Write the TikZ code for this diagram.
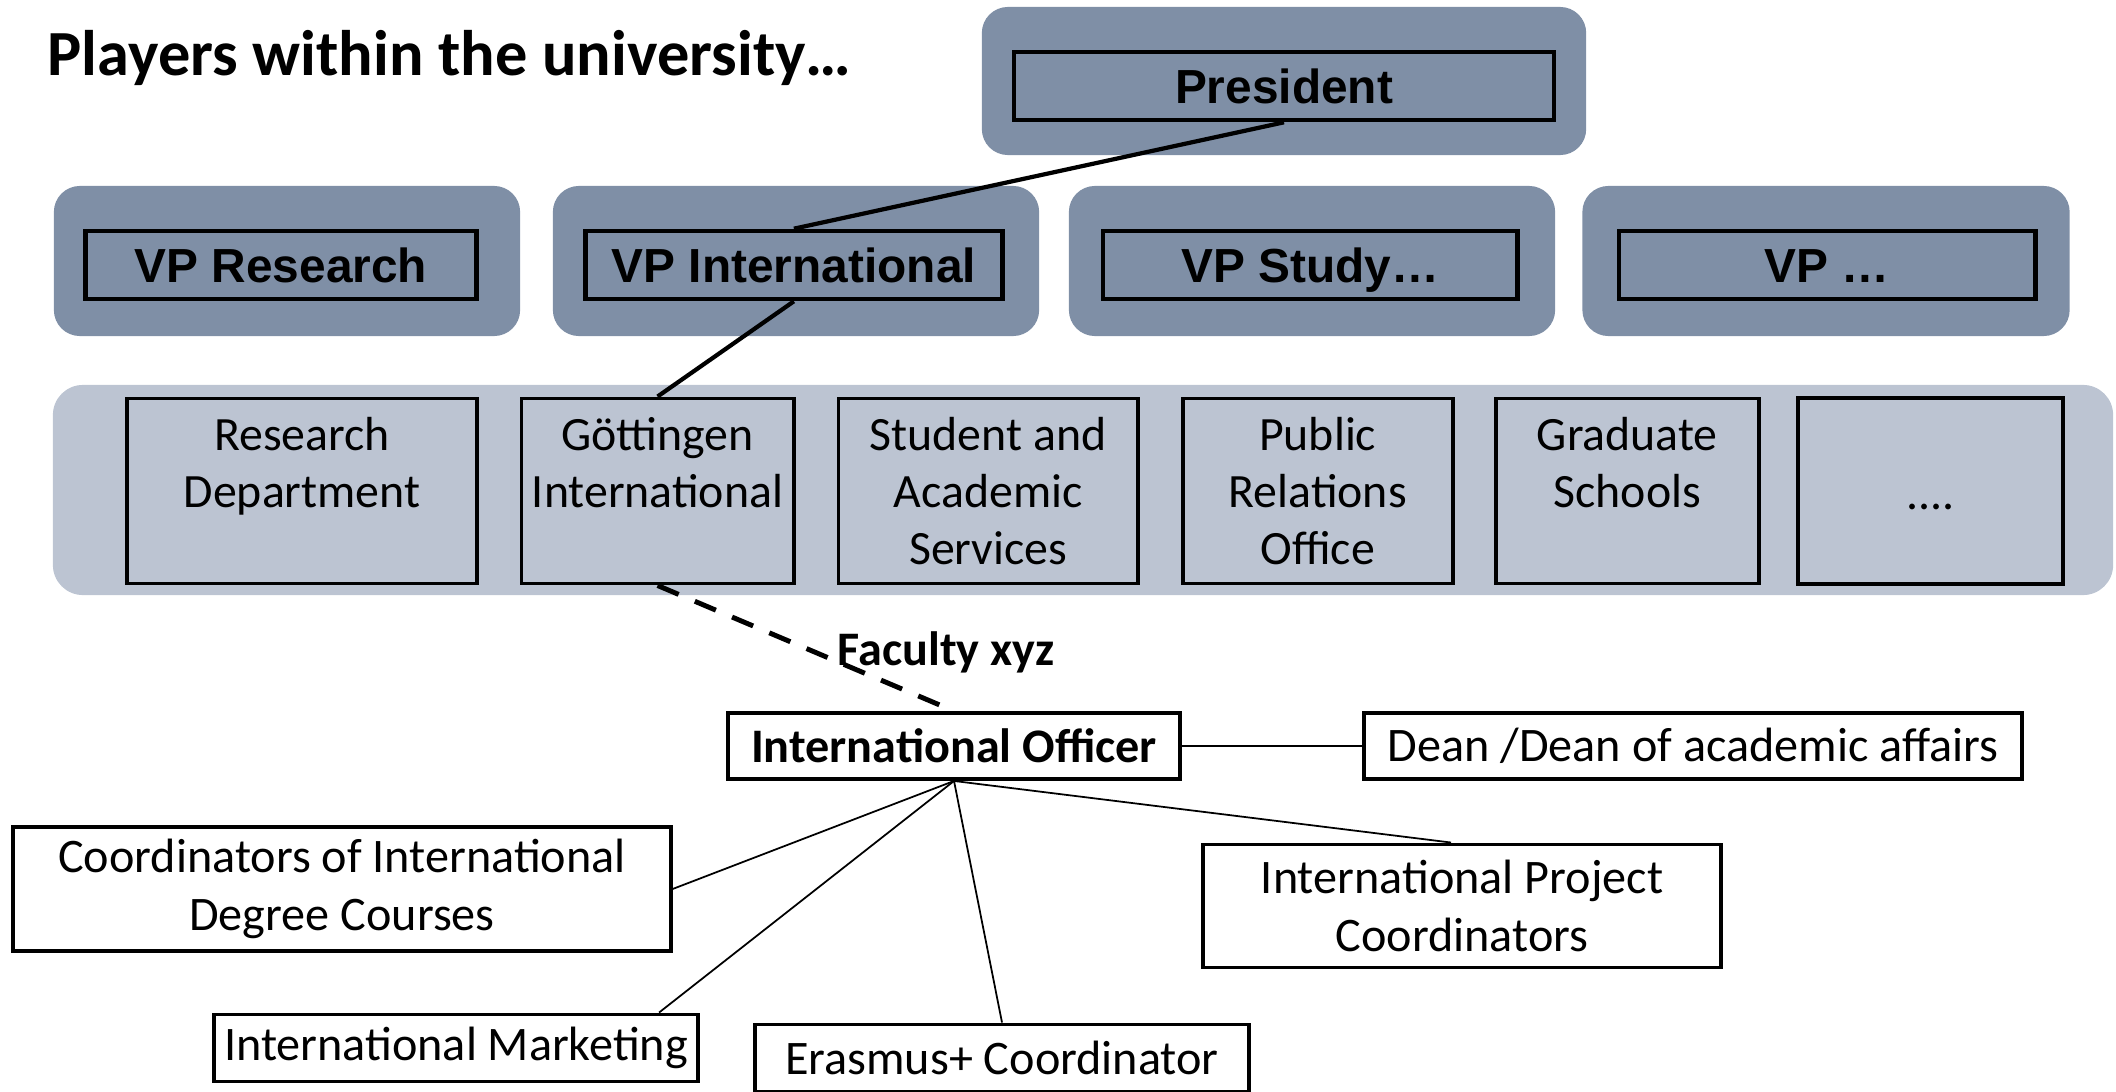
\documentclass[tikz,border=0pt]{standalone}
\usepackage{fontspec}
\setmainfont{Carlito}
\newfontfamily\arialfont{Liberation Sans}
\usetikzlibrary{positioning}
\definecolor{panelblue}{HTML}{7F8FA6}
\definecolor{bandblue}{HTML}{BCC4D2}
\tikzset{
  panel/.style={fill=panelblue, rounded corners=0.26cm, inner sep=0pt},
  band/.style={fill=bandblue, rounded corners=0.3cm, inner sep=0pt},
  vpbox/.style={draw, line width=1.3pt, fill=panelblue, minimum height=0.68cm,
    inner sep=0pt, text height=9.7pt, text depth=0pt,
    font=\arialfont\bfseries\fontsize{13.6}{16}\selectfont},
  deptbox/.style={draw, line width=1.1pt, fill=bandblue, minimum height=1.85cm,
    inner sep=0pt, align=center, font=\fontsize{13.6}{16.3}\selectfont},
  rolebox/.style={draw, line width=1.1pt, fill=white, inner sep=0pt,
    align=center, font=\fontsize{13.7}{16.5}\selectfont},
  link/.style={line width=1.2pt},
  twig/.style={line width=0.5pt}
}

\begin{document}
\begin{tikzpicture}[x=0.01cm, y=-0.01cm]

  \useasboundingbox (0,0) rectangle (2116,1091);

  % Title
  \node[anchor=west, inner sep=0pt, font=\bfseries\fontsize{18.3}{22}\selectfont]
    (title) at (47,58) {Players within the university…};

  % Panels
  \node[panel, minimum width=6.04cm, minimum height=1.48cm] (p_pres) at (1284,81) {};
  \node[panel, minimum width=4.66cm, minimum height=1.50cm] (p_vpr) at (287,261) {};
  \node[panel, minimum width=4.86cm, minimum height=1.50cm] (p_vpi) at (796,261) {};
  \node[panel, minimum width=4.86cm, minimum height=1.50cm] (p_vps) at (1312,261) {};
  \node[panel, minimum width=4.87cm, minimum height=1.50cm] (p_vpx) at (1826,261) {};
  \node[band, minimum width=20.59cm, minimum height=2.10cm] (p_band) at (1083,490) {};

  % Define nodes
  \node[vpbox, minimum width=5.40cm] (pres) at (1284,86) {President};
  \node[vpbox, minimum width=3.91cm] (vpr) at (281,265) {VP Research};
  \node[vpbox, minimum width=4.17cm, right=1.04cm of vpr] (vpi) {VP International};
  \node[vpbox, minimum width=4.14cm, right=0.96cm of vpi] (vps) {VP Study…};
  \node[vpbox, minimum width=4.16cm, right=0.97cm of vps] (vpx) {VP …};

  \node[deptbox, minimum width=3.49cm] (rd) at (302,491) {Research\\Department\\~};
  \node[deptbox, minimum width=2.72cm, right=0.41cm of rd]  (gi)  {Göttingen\\International\\~};
  \node[deptbox, minimum width=2.99cm, right=0.41cm of gi]  (sas) {Student and\\Academic\\Services};
  \node[deptbox, minimum width=2.70cm, right=0.41cm of sas] (pro) {Public\\Relations\\Office};
  \node[deptbox, minimum width=2.63cm, right=0.39cm of pro] (gs)  {Graduate\\Schools\\~};
  \node[deptbox, minimum width=2.65cm, right=0.35cm of gs]  (etc) {\strut\\[4pt]....\\\strut};

  \node[rolebox, minimum width=4.52cm, minimum height=0.66cm, font=\bfseries\fontsize{13.7}{16.5}\selectfont]
    (io) at (954,746) {International Officer};
  \node[rolebox, minimum width=6.58cm, minimum height=0.66cm] (dean) at (1693,746) {Dean /Dean of academic affairs};
  \node[rolebox, minimum width=6.57cm, minimum height=1.24cm] (cidc) at (342,889) {Coordinators of International\\Degree Courses};
  \node[rolebox, minimum width=4.84cm, minimum height=0.67cm] (im) at (456,1048) {International Marketing};
  \node[rolebox, minimum width=4.94cm, minimum height=0.67cm] (erc) at (1002,1058) {Erasmus+ Coordinator};
  \node[rolebox, minimum width=5.18cm, minimum height=1.23cm] (ipc) at (1462,906) {International Project\\Coordinators};

  % Connect the nodes
  \draw[link] (pres.south) -- (vpi.north);
  \draw[link] (vpi.south) -- (gi.north);
  \draw[line width=1.4pt, dash pattern=on 6.5pt off 5pt] (gi.south) -- (io.north);
  \node[inner sep=0pt, font=\bfseries\fontsize{13.7}{16.5}\selectfont] (fac) at (946,652) {Faculty xyz};
  \draw[twig] (io.east) -- (dean.west);
  \draw[twig] (io.south) -- (cidc.east);
  \draw[twig] (io.south) -- ([xshift=-0.41cm]im.north east);
  \draw[twig] (io.south) -- (erc.north);
  \draw[twig] (io.south) -- ([xshift=-0.11cm]ipc.north);

\end{tikzpicture}
\end{document}
